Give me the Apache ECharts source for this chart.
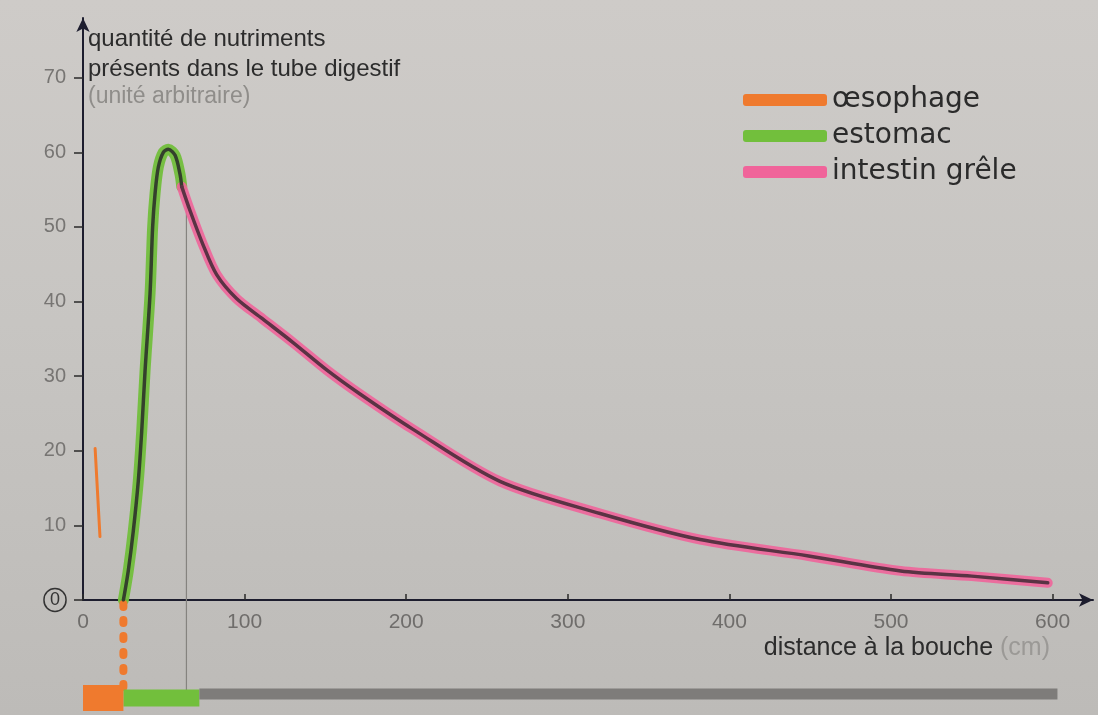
<!DOCTYPE html>
<html><head><meta charset="utf-8">
<script src="https://cdn.jsdelivr.net/npm/echarts@6/dist/echarts.min.js"></script>
<style>
html,body{margin:0;padding:0;width:1098px;height:715px;overflow:hidden;
background: linear-gradient(180deg,#cecbc8 0%,#c7c5c2 45%,#bdbbb8 100%);}
#c{width:1098px;height:715px;}
</style></head><body><div id="c"></div>
<script>
// ---- data ----
const xTickValues = [0, 100, 200, 300, 400, 500, 600];
const yTickValues = [0, 10, 20, 30, 40, 50, 60, 70];
const stomachDist = [25, 28, 31.1, 34.2, 36.3, 38.4, 41.5, 43.1, 44.6, 46.6, 49.7, 52.8, 57, 60, 61.1];
const stomachVal  = [0, 3.9, 9.2, 15.9, 22.5, 30.7, 41.1, 50.0, 54.5, 58.0, 60.0, 60.4, 59.6, 57.1, 55.4];
const intestineDist = [61.1, 66.2, 74.3, 82.7, 95, 111, 130, 151, 171.4, 204, 258, 320, 382, 449, 506, 550, 597];
const intestineVal  = [55.4, 52.2, 47.6, 43.6, 40.4, 37.7, 34.5, 30.8, 27.6, 22.9, 15.9, 11.6, 8.1, 5.9, 3.9, 3.2, 2.3];
const esoMarkDist = [7.5, 10.5];
const esoMarkVal  = [20.3, 8.5];
const segmentNames = ['œsophage', 'estomac', 'intestin grêle'];
const segmentStart = [0, 25, 72];
const segmentEnd   = [25, 72, 603];
const boundaryDist = 64;
const boundaryVal = 53.5;

// ---- helpers ----
const zip = (a, b) => a.map((v, i) => [v, b[i]]);
const FONT = 'Liberation Sans, Arial, sans-serif';
const ORANGE = '#ef7a2e', GREEN = '#72bf3c', PINK = '#f0649a';
const BAND_Y = 98, GREY_BAND_Y = 94; // offsets below the x axis in the lower helper grid

const chart = echarts.init(document.getElementById('c'), null, {renderer: 'canvas'});
const option = {
  backgroundColor: 'transparent',
  animation: false,
  textStyle: {fontFamily: FONT},
  grid: [
    {left: 83, right: 5, top: 18, bottom: 115, outerBoundsMode: 'none'},
    {left: 83, right: 5, top: 600, height: 115, outerBoundsMode: 'none'}
  ],
  xAxis: [
    {type: 'value', gridIndex: 0, min: 0, max: 625, interval: 100,
     axisLine: {onZero: false, lineStyle: {color: '#1d1d2e', width: 2}, symbol: ['none', 'arrow'], symbolSize: [10, 14]},
     axisTick: {inside: true, length: 6, lineStyle: {color: '#2a2a2a', width: 1.5}},
     axisLabel: {margin: 12, fontSize: 21, color: '#6f6d6b', fontFamily: FONT, showMaxLabel: false,
       formatter: v => (xTickValues.indexOf(v) >= 0 ? String(v) : '')},
     splitLine: {show: false}},
    {type: 'value', gridIndex: 1, min: 0, max: 625, show: false}
  ],
  yAxis: [
    {type: 'value', gridIndex: 0, min: 0, max: 78, interval: 10,
     axisLine: {show: true, lineStyle: {color: '#1d1d2e', width: 2}, symbol: ['none', 'arrow'], symbolSize: [10, 14]},
     axisTick: {show: true, length: 9, lineStyle: {color: '#2a2a2a', width: 1.5}},
     axisLabel: {margin: 17, fontSize: 20, color: '#777573', fontFamily: FONT, showMaxLabel: false,
       formatter: v => (v === 0 ? '{c|0}' : (yTickValues.indexOf(v) >= 0 ? String(v) : '')),
       rich: {c: {color: '#333', fontSize: 18, borderColor: '#333', borderWidth: 1.5, borderRadius: 13, padding: [3, 6, 2, 6]}}},
     splitLine: {show: false}},
    {type: 'value', gridIndex: 1, min: 0, max: 115, inverse: true, show: false}
  ],
  legend: {
    data: segmentNames, orient: 'vertical', left: 738, top: 80,
    itemWidth: 84, itemHeight: 12, itemGap: 6, icon: 'roundRect', selectedMode: false,
    textStyle: {fontSize: 28, lineHeight: 30, color: '#2b2b2b', fontFamily: 'DejaVu Sans, Liberation Sans, sans-serif'}
  },
  graphic: [
    {type: 'text', left: 88, top: 27, style: {text: 'quantité de nutriments', fontSize: 24, fill: '#2c2c2c', fontFamily: FONT}},
    {type: 'text', left: 88, top: 57, style: {text: 'présents dans le tube digestif', fontSize: 24, fill: '#2c2c2c', fontFamily: FONT}},
    {type: 'text', left: 88, top: 85, style: {text: '(unité arbitraire)', fontSize: 23, fill: '#8f8d8a', fontFamily: FONT}},
    {type: 'text', right: 48, top: 636, style: {
      text: '{a|distance à la bouche }{b|(cm)}', fontFamily: FONT,
      rich: {a: {fontSize: 25, fill: '#2c2c2c', color: '#2c2c2c', fontFamily: FONT},
             b: {fontSize: 25, fill: '#9b9996', color: '#9b9996', fontFamily: FONT}}}}
  ],
  series: [
    // highlighter underlays
    {name: 'estomac', type: 'line', xAxisIndex: 0, yAxisIndex: 0, data: zip(stomachDist, stomachVal),
     smooth: 0.3, showSymbol: false, symbol: 'none', itemStyle: {color: GREEN},
     lineStyle: {color: GREEN, width: 11, opacity: 0.95, cap: 'round'}, z: 2},
    {name: 'intestin grêle', type: 'line', xAxisIndex: 0, yAxisIndex: 0, data: zip(intestineDist, intestineVal),
     smooth: 0.3, showSymbol: false, symbol: 'none', itemStyle: {color: PINK},
     lineStyle: {color: PINK, width: 10, opacity: 0.9, cap: 'round'}, z: 2},
    // printed dark curve
    {name: '_stomachInk', type: 'line', data: zip(stomachDist, stomachVal), smooth: 0.3, symbol: 'none',
     lineStyle: {color: '#34402c', width: 3.5, cap: 'round'}, z: 3},
    {name: '_intestineInk', type: 'line', data: zip(intestineDist, intestineVal), smooth: 0.3, symbol: 'none',
     lineStyle: {color: '#5a3344', width: 3.5, cap: 'round'}, z: 3},
    // boundary line stomach / intestine
    {name: '_boundary', type: 'line', data: [[boundaryDist, 0], [boundaryDist, boundaryVal]], symbol: 'none',
     lineStyle: {color: '#85837f', width: 1.2}, z: 1},
    {name: '_boundary2', type: 'line', xAxisIndex: 1, yAxisIndex: 1, data: [[boundaryDist, 0], [boundaryDist, GREY_BAND_Y]], symbol: 'none',
     lineStyle: {color: '#85837f', width: 1.2}, z: 1},
    // stray orange mark
    {name: 'œsophage', type: 'line', data: zip(esoMarkDist, esoMarkVal), symbol: 'none', itemStyle: {color: ORANGE},
     lineStyle: {color: ORANGE, width: 3, cap: 'round'}, z: 2},
    // dotted orange line below the axis
    {name: 'œsophage', type: 'line', xAxisIndex: 1, yAxisIndex: 1,
     data: [[segmentEnd[0], 4], [segmentEnd[0], BAND_Y - 8]], symbol: 'none', itemStyle: {color: ORANGE},
     lineStyle: {color: ORANGE, width: 8, type: [3, 13], cap: 'round'}, z: 2},
    // bottom band
    {name: 'œsophage', type: 'line', xAxisIndex: 1, yAxisIndex: 1,
     data: [[segmentStart[0], BAND_Y], [segmentEnd[0], BAND_Y]], symbol: 'none', itemStyle: {color: ORANGE},
     lineStyle: {color: ORANGE, width: 26, cap: 'butt'}, z: 3},
    {name: 'estomac', type: 'line', xAxisIndex: 1, yAxisIndex: 1,
     data: [[segmentStart[1], BAND_Y], [segmentEnd[1], BAND_Y]], symbol: 'none', itemStyle: {color: GREEN},
     lineStyle: {color: GREEN, width: 17, cap: 'butt'}, z: 2},
    {name: '_intestineBand', type: 'line', xAxisIndex: 1, yAxisIndex: 1,
     data: [[segmentStart[2], GREY_BAND_Y], [segmentEnd[2], GREY_BAND_Y]], symbol: 'none',
     lineStyle: {color: '#7e7c7a', width: 11, cap: 'butt'}, z: 2}
  ]
};
chart.setOption(option);
</script></body></html>
